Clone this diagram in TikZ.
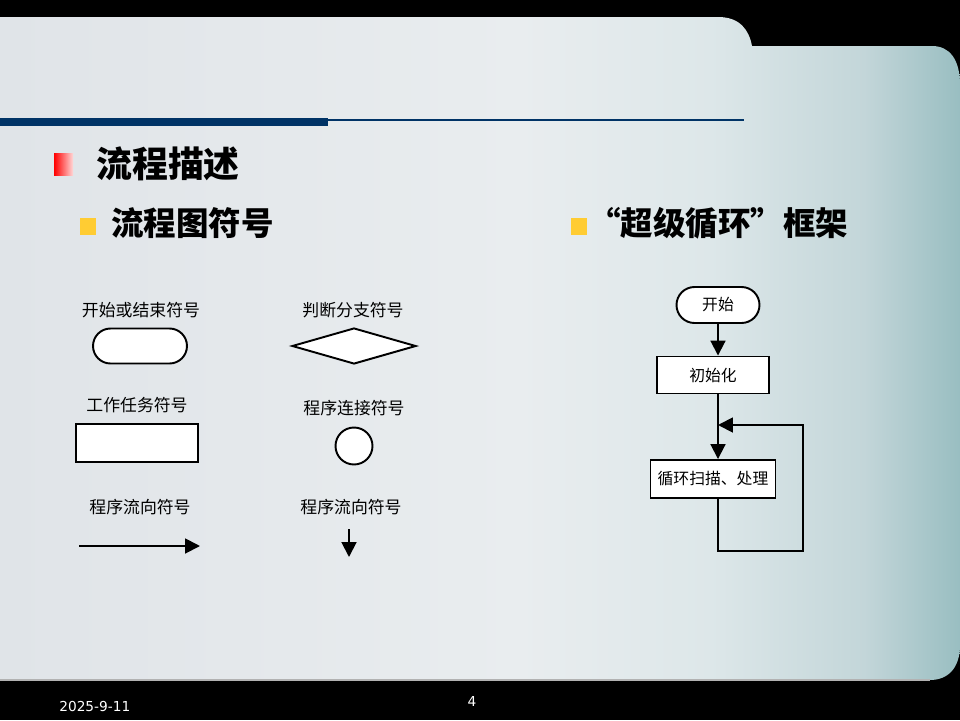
\documentclass[tikz,border=0pt]{standalone}
\usepackage{fontspec}
\usepackage{xcolor}
\usepackage{tikz}
\usetikzlibrary{arrows.meta, positioning, shapes.geometric}
\newfontfamily\cjk{Noto Sans CJK SC}
\newfontfamily\footfont{DejaVu Sans}
\definecolor{rulenavy}{RGB}{0,51,102}
\definecolor{bulletgold}{RGB}{255,204,51}
\pgfdeclarehorizontalshading{panelshade}{100bp}{
    rgb(0bp)=(0.878,0.894,0.910);
    rgb(25bp)=(0.878,0.894,0.910);
    rgb(52bp)=(0.914,0.929,0.937);
    rgb(62bp)=(0.867,0.906,0.914);
    rgb(70bp)=(0.765,0.839,0.851);
    rgb(75bp)=(0.600,0.745,0.757);
    rgb(100bp)=(0.600,0.745,0.757)}

\begin{document}
\begin{tikzpicture}[x=0.02cm, y=-0.02cm,
    heading/.style={anchor=west, inner sep=0pt, font=\cjk\bfseries\fontsize{18.5}{22}\selectfont},
    symlabel/.style={font=\cjk\fontsize{9.6}{11}\selectfont},
    symbol/.style={draw, line width=1.1pt, fill=white, inner sep=0pt},
    stepbox/.style={draw, line width=1.1pt, fill=white, inner sep=0pt, font=\cjk\fontsize{9}{10}\selectfont},
    flowline/.style={line width=1.1pt},
    flowarrow/.style={line width=1.1pt, -{Triangle[length=8.5pt, width=8.5pt]}}]
    \useasboundingbox (0,0) rectangle (960,720);
    % 背景
    \fill[black] (0,0) rectangle (960,720);
    \shade[shading=panelshade]
        (0,17) -- (718,17) .. controls (740,17) and (749,30) .. (752,46)
        -- (932,46) .. controls (950,46) and (960,60) .. (960,85)
        -- (960,645) .. controls (960,668) and (948,680) .. (930,680)
        -- (0,680) -- cycle;
    \draw[gray!60, line width=0.8pt] (0,680) -- (930,680);
    \fill[rulenavy] (0,118) rectangle (328,126);
    \draw[rulenavy, line width=1.2pt] (328,120) -- (744,120);

    % 标题
    \shade[left color=red, right color=red!15] (54,153) rectangle (73,175);
    \node[heading, font=\cjk\bfseries\fontsize{20.4}{24}\selectfont] (title) at (96,164) {流程描述};
    \fill[bulletgold] (80,218) rectangle (96,235);
    \node[heading] (symbols) at (111,223) {流程图符号};
    \fill[bulletgold] (571,218) rectangle (587,235);
    \node[heading] (superloop) at (588,223) {“超级循环”框架};

    % 流程图符号
    \node[symlabel] (lblterm) at (141,310) {开始或结束符号};
    \node[symbol, rounded corners=0.35cm, minimum width=1.88cm, minimum height=0.7cm] (term) at (140,346) {};
    \node[symlabel] (lbldecide) at (353,310) {判断分支符号};
    \node[symbol, diamond, minimum width=2.48cm, minimum height=0.72cm] (decide) at (354,346) {};
    \node[symlabel] (lbltask) at (137,405) {工作任务符号};
    \node[symbol, minimum width=2.44cm, minimum height=0.76cm] (task) at (137,443) {};
    \node[symlabel] (lblconn) at (354,408) {程序连接符号};
    \node[symbol, circle, minimum size=0.74cm] (conn) at (354,446) {};
    \node[symlabel] (lblflowh) at (140,507) {程序流向符号};
    \node[symlabel] (lblflowv) at (351,507) {程序流向符号};
    \coordinate (hfrom) at (79,546);
    \coordinate (hto) at (200,546);
    \coordinate (vfrom) at (349,529);
    \coordinate (vto) at (349,557);
    \draw[flowarrow] (hfrom) -- (hto);
    \draw[flowarrow] (vfrom) -- (vto);

    % 超级循环
    \node[stepbox, rounded corners=0.36cm, minimum width=1.66cm, minimum height=0.72cm] (start) at (718,305) {开始};
    \node[stepbox, minimum width=2.24cm, minimum height=0.74cm] (init) at (713,375) {初始化};
    \node[stepbox, minimum width=2.5cm, minimum height=0.76cm] (scan) at (713,479) {循环扫描、处理};
    \coordinate (join) at (718,425);
    \coordinate (back) at (803,551);
    \draw[flowarrow] (start.south) -- (start.south |- init.north);
    \draw[flowline] (start.south |- init.south) -- (join);
    \draw[flowarrow] (join) -- (start.south |- scan.north);
    \draw[flowarrow] (start.south |- scan.south) |- (back) |- (join);

    % 页脚
    \node[anchor=west, inner sep=0pt, text=white, font=\footfont\fontsize{7.8}{9}\selectfont] (date) at (59,707) {2025-9-11};
    \node[inner sep=0pt, text=white, font=\footfont\fontsize{7.8}{9}\selectfont] (page) at (472,701) {4};
\end{tikzpicture}
\end{document}
